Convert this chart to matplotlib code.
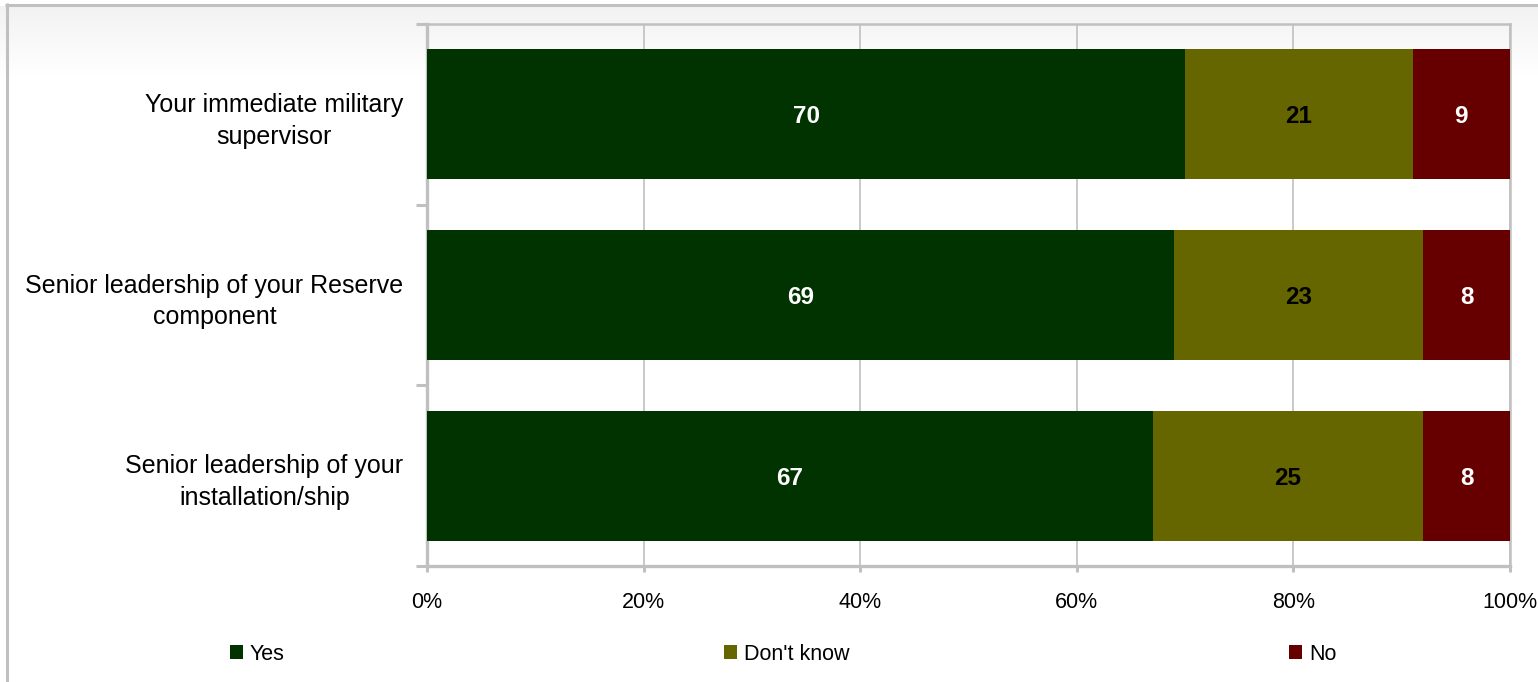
import numpy as np
import matplotlib
matplotlib.use("Agg")
import matplotlib.pyplot as plt
from matplotlib.patches import Patch
from matplotlib.lines import Line2D

categories = ["Your immediate military\nsupervisor",
              "Senior leadership of your Reserve\ncomponent",
              "Senior leadership of your\ninstallation/ship"]
series_names = ["Yes", "Don't know", "No"]
yes_vals = [70, 69, 67]
dontknow_vals = [21, 23, 25]
no_vals = [9, 8, 8]
xtick_labels = ["0%", "20%", "40%", "60%", "80%", "100%"]

colors = ["#003300", "#666600", "#660000"]
label_colors = ["white", "black", "white"]
grey = "#c0c0c0"

plt.rcParams['font.family'] = ['Liberation Sans', 'DejaVu Sans']

W, H = 1538, 682
fig = plt.figure(figsize=(W / 100, H / 100), dpi=100)
fig.patch.set_facecolor("white")

# background gradient at top
bg = fig.add_axes([0, 0, 1, 1], zorder=-10)
grad = np.ones((H, 1))
top_px, fade_px = 6, 70
for i in range(H):
    if i >= top_px and i < top_px + fade_px:
        t = (i - top_px) / fade_px
        grad[i, 0] = 0.95 + 0.05 * t
grad = np.repeat(grad[:, :, None], 3, axis=2)
bg.imshow(grad, extent=[0, 1, 0, 1], aspect='auto', origin='upper')
bg.set_xlim(0, 1); bg.set_ylim(0, 1)
bg.axis('off')

# outer frame lines
fig.add_artist(Line2D([6.5 / W, 6.5 / W], [0, 1 - 3 / H], transform=fig.transFigure,
                      color=grey, lw=2.2, solid_capstyle='butt'))
fig.add_artist(Line2D([5 / W, 1], [1 - 4.5 / H, 1 - 4.5 / H], transform=fig.transFigure,
                      color=grey, lw=2.2, solid_capstyle='butt'))

left, right, top, bottom = 427, 1510, 24, 566
ax = fig.add_axes([left / W, 1 - bottom / H, (right - left) / W, (bottom - top) / H])
ax.patch.set_alpha(0)

y = np.arange(len(categories))
data = [yes_vals, dontknow_vals, no_vals]
lefts = np.zeros(len(categories))
for name, vals, c, lc in zip(series_names, data, colors, label_colors):
    bars = ax.barh(y, vals, left=lefts, height=0.72, color=c, label=name, zorder=3)
    txts = ax.bar_label(bars, labels=[str(v) for v in vals], label_type='center',
                        color=lc, fontsize=17.5, fontweight='bold')
    for t in txts:
        t.set_va('center_baseline')
    lefts += np.array(vals)

ax.set_xlim(0, 100)
ax.set_ylim(2.5, -0.5)
ax.set_xticks(np.linspace(0, 100, len(xtick_labels)))
ax.set_xticklabels(xtick_labels, fontsize=15.5)
ax.set_yticks(y)
ax.set_yticklabels(categories, fontsize=18)
for lbl in ax.get_yticklabels():
    lbl.set_multialignment('center')
    lbl.set_linespacing(1.42)
ax.set_yticks([-0.5, 0.5, 1.5, 2.5], minor=True)
ax.tick_params(axis='y', which='major', length=0, pad=17)
ax.tick_params(axis='y', which='minor', length=8, width=2.2, color=grey, direction='out')
ax.tick_params(axis='x', which='major', length=4, width=2.2, color=grey, pad=15)

ax.grid(axis='x', color=grey, lw=1.2, zorder=0)
ax.set_axisbelow(True)
for s in ['left', 'bottom']:
    ax.spines[s].set_color(grey)
    ax.spines[s].set_linewidth(2.4)
for s in ['top', 'right']:
    ax.spines[s].set_color(grey)
    ax.spines[s].set_linewidth(1.8)

handles = [Patch(facecolor=c, edgecolor='none') for c in colors]
fig.legend(handles, series_names, loc='center left', bbox_to_anchor=(230 / W, 1 - 654 / H),
           ncol=3, frameon=False, fontsize=15.5, handlelength=0.6, handleheight=0.6,
           handletextpad=0.33, columnspacing=20.4, borderpad=0, borderaxespad=0)

fig.savefig("out.png", dpi=100)
